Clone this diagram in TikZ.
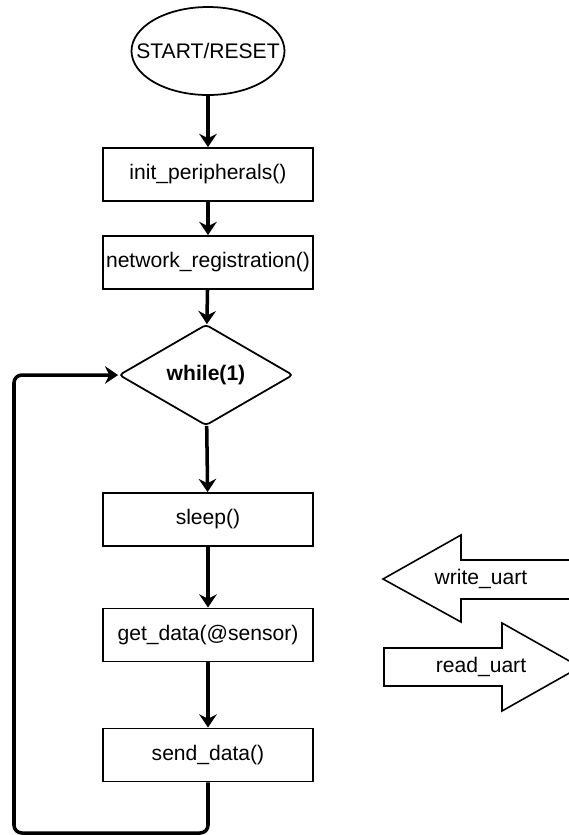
\documentclass[tikz,border=0pt]{standalone}
\usepackage{fontspec}
\setmainfont{Liberation Sans}
\usetikzlibrary{arrows.meta,shapes.geometric}

\begin{document}
\begin{tikzpicture}[
        every node/.style={font=\fontsize{12}{14}\selectfont},
        startstop/.style={ellipse, draw, line width=1pt, minimum width=3.06cm, minimum height=1.76cm},
        block/.style={rectangle, draw, line width=1.1pt, minimum width=4.2cm, minimum height=1.06cm, inner sep=0pt},
        decision/.style={diamond, draw, line width=1pt, rounded corners=2pt, minimum width=3.48cm, minimum height=2.02cm, inner sep=0pt},
        uart/.style={draw, line width=0.9pt},
        line/.style={-{Stealth[length=7.5pt, width=10pt, inset=2.5pt]}, line width=2pt}]

        \useasboundingbox (0,0) rectangle (11.36,-16.7);

        % Nodes (program flow)
        \node[startstop, label=center:START/RESET] (start) at (4.16,-1.02) {};
        \node[block] (init) at (4.16,-3.49) {init\_peripherals()};
        \node[block] (netreg) at (4.16,-5.25) {network\_registration()};
        \node[decision] (loop) at (4.12,-7.5) {\textbf{while(1)}};
        \node[block] (sleep) at (4.16,-10.39) {sleep()};
        \node[block] (getdata) at (4.16,-12.7) {get\_data(@sensor)};
        \node[block] (senddata) at (4.16,-15.1) {send\_data()};
        \coordinate (back) at (0.28,-16.66);

        % Arcs (flow)
        \draw[line] (start) -- (init);
        \draw[line] (init) -- (netreg);
        \draw[line] (netreg) -- (loop);
        \draw[line] (loop) -- (sleep);
        \draw[line] (sleep) -- (getdata);
        \draw[line] (getdata) -- (senddata);
        \draw[line, rounded corners=4.5pt] (senddata.south) |- (back) |- (loop.west);

        % UART arrows
        \draw[uart] (7.66,-11.58) -- (9.22,-10.70) -- (9.22,-11.20) -- (11.60,-11.20)
            -- (11.60,-11.98) -- (9.22,-11.98) -- (9.22,-12.44) -- cycle;
        \node (wuart) at (9.62,-11.58) {write\_uart};
        \draw[uart] (7.68,-12.96) -- (10.04,-12.96) -- (10.04,-12.46) -- (11.60,-13.34)
            -- (10.04,-14.22) -- (10.04,-13.72) -- (7.68,-13.72) -- cycle;
        \node (ruart) at (9.62,-13.34) {read\_uart};
    \end{tikzpicture}
\end{document}
